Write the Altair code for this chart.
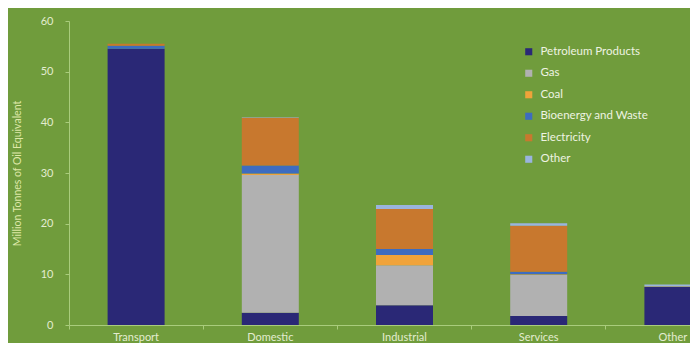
import altair as alt
import pandas as pd

categories = ["Transport", "Domestic", "Industrial", "Services", "Other"]
fuels = ["Petroleum Products", "Gas", "Coal", "Bioenergy and Waste", "Electricity", "Other"]
petroleum = [54.5, 2.4, 3.9, 1.8, 7.5]
gas = [0.0, 27.2, 7.9, 8.1, 0.0]
coal = [0.0, 0.3, 2.0, 0.1, 0.0]
bioenergy = [0.6, 1.6, 1.2, 0.5, 0.0]
electricity = [0.4, 9.4, 7.9, 9.1, 0.1]
other = [0.0, 0.1, 0.8, 0.5, 0.4]
colors = ["#2a2876", "#b1b1b1", "#f0a33a", "#3d6cc0", "#c8782e", "#9ab4de"]

series = [petroleum, gas, coal, bioenergy, electricity, other]
rows = []
for fi, (fuel, vals) in enumerate(zip(fuels, series)):
    for cat, v in zip(categories, vals):
        rows.append({"sector": cat, "fuel": fuel, "value": v, "idx": fi})
df = pd.DataFrame(rows)

chart = alt.Chart(df).mark_bar(size=57).encode(
    x=alt.X("sector:N", sort=categories,
            scale=alt.Scale(range=[0, 671], paddingInner=0.0, paddingOuter=0.0),
            axis=alt.Axis(title=None, labelAngle=0, labelFontSize=11, labelColor="#e3ecd0",
                          labelFont="Lato", domainColor="#a9cc7c", tickColor="#a9cc7c",
                          tickSize=4, bandPosition=0, labelPadding=2)),
    y=alt.Y("value:Q", stack="zero",
            scale=alt.Scale(domain=[0, 60], nice=False),
            axis=alt.Axis(values=[0, 10, 20, 30, 40, 50, 60], grid=False,
                          title="Million Tonnes of Oil Equivalent",
                          titleFont="Lato", titleFontSize=10.5, titleFontWeight="normal",
                          titleColor="#dfe8a8", titlePadding=18,
                          labelFont="Lato", labelFontSize=11, labelColor="#e3ecd0",
                          labelPadding=12, domainColor="#a9cc7c", tickColor="#a9cc7c",
                          tickSize=4)),
    color=alt.Color("fuel:N", sort=fuels,
                    scale=alt.Scale(domain=fuels, range=colors),
                    legend=alt.Legend(title=None, orient="none", legendX=454, legendY=25,
                                      symbolType="square", symbolSize=50, symbolStrokeWidth=0,
                                      labelFont="Lato", labelFontSize=11.5, labelColor="#eef3e2",
                                      rowPadding=8.5, labelOffset=6)),
    order=alt.Order("idx:Q", sort="ascending"),
).properties(
    width=621, height=304,
    autosize=alt.AutoSizeParams(type="none"),
    padding={"left": 61, "top": 13, "right": 0, "bottom": 18},
).configure(background="#709c3c").configure_view(stroke=None)

chart.save("out.html", embed_options={"renderer": "svg", "actions": False})
